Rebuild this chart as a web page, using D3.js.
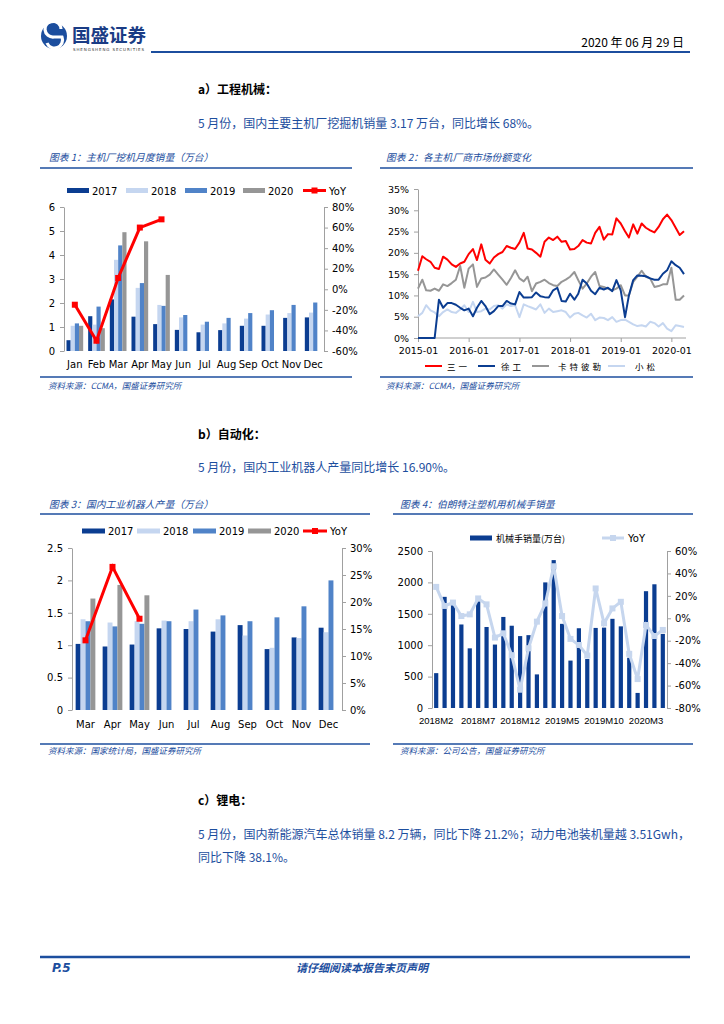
<!DOCTYPE html>
<html><head><meta charset="utf-8">
<script src="https://cdn.jsdelivr.net/npm/d3@7"></script>
<style>
body{margin:0;background:#fff;}
svg{display:block;}
</style></head><body>
<svg id="page" width="724" height="1024"></svg>
<script>
// ---------- DATA ----------
// Chart 1: excavator monthly sales (10k units)
const months1 = ["Jan","Feb","Mar","Apr","May","Jun","Jul","Aug","Sep","Oct","Nov","Dec"];
const years = ["2017","2018","2019","2020"];
const excav2017 = [0.45,1.45,2.15,1.43,1.12,0.88,0.78,0.87,1.05,1.05,1.38,1.40];
const excav2018 = [1.05,1.10,3.80,2.63,1.92,1.40,1.10,1.15,1.35,1.52,1.58,1.60];
const excav2019 = [1.15,1.85,4.40,2.83,1.88,1.50,1.22,1.38,1.58,1.70,1.92,2.02];
const excav2020 = [1.05,0.95,4.95,4.57,3.17];
const excavYoY = [-15,-50,11,60,68];
const ticks1L = [0,1,2,3,4,5,6];
const ticks1R = [-60,-40,-20,0,20,40,60,80];

// Chart 2: market share (%)
const shareStart = [2015,0], shareEnd = [2020,3];
const shareNames = ["三一","徐工","卡特彼勒","小松"];
const sany = [15.8,19.2,18.5,17.9,16.5,16.2,19.1,18.4,17.3,16.7,17.5,17.9,
  19.7,20.9,18.3,22.0,18.4,17.5,18.9,19.7,20.2,21.6,21.2,20.9,
  22.4,24.7,21.0,20.8,20.0,19.1,22.6,23.6,23.0,23.8,22.6,22.8,
  20.8,20.9,21.6,23.0,22.4,22.2,24.7,26.1,23.1,24.4,24.3,28.1,
  26.9,25.1,23.6,26.7,24.5,26.9,25.9,25.3,24.8,26.1,27.9,29.0,
  27.7,25.9,24.2,25.1];
const xcmg = [0,0,0,0,0,9.0,7.1,8.2,8.2,7.8,7.1,6.5,
  6.9,5.1,7.1,8.7,7.5,5.6,6.3,7.5,7.5,8.7,8.1,7.9,
  10.8,9.5,9.5,9.6,10.7,9.8,9.6,9.5,11.2,11.8,8.7,8.6,
  10.4,9.0,10.4,13.7,12.8,11.1,10.3,11.8,11.4,11.8,11.0,13.6,
  11.2,4.9,10.0,13.6,14.7,14.6,14.5,14.0,13.7,13.7,15.1,15.9,
  18.0,17.1,16.5,15.0];
const cat = [11.6,13.7,11.2,11.1,11.6,11.1,12.6,12.2,12.9,13.7,16.9,11.8,
  16.3,17.3,12.0,14.0,14.2,14.9,16.1,14.9,13.7,12.5,14.1,15.9,
  14.0,13.3,14.4,11.0,12.8,13.2,13.7,12.9,12.4,12.2,13.2,13.7,
  14.4,15.5,13.6,11.6,12.8,14.4,15.5,12.2,12.0,11.6,11.2,11.6,
  12.4,10.0,10.0,13.2,14.4,15.8,14.4,14.0,12.0,12.2,12.6,12.6,
  16.5,9.0,9.0,10.0];
const komatsu = [5.1,5.9,7.7,6.5,6.0,5.1,6.1,6.7,6.1,5.9,6.7,7.7,
  6.1,8.5,6.1,6.3,6.9,6.7,7.5,7.7,6.9,7.9,7.5,7.7,
  4.9,7.9,7.5,7.1,6.7,7.9,5.9,6.9,6.1,6.3,6.5,6.1,
  4.8,5.7,5.9,5.3,4.8,5.7,4.2,4.8,4.7,4.2,4.9,3.8,
  4.2,4.3,3.8,3.2,2.8,3.0,2.7,3.8,3.5,2.7,3.5,2.2,
  1.6,3.0,2.8,2.6];
const ticks2Y = [0,5,10,15,20,25,30,35];
const ticks2X = ["2015-01","2016-01","2017-01","2018-01","2019-01","2020-01"];

// Chart 3: industrial robot output (10k units)
const months3 = ["Mar","Apr","May","Jun","Jul","Aug","Sep","Oct","Nov","Dec"];
const robot2017 = [1.02,0.98,1.01,1.26,1.25,1.21,1.31,0.94,1.12,1.27];
const robot2018 = [1.40,1.35,1.37,1.38,1.37,1.40,1.15,0.96,1.11,1.20];
const robot2019 = [1.37,1.29,1.33,1.37,1.55,1.46,1.37,1.43,1.60,2.00];
const robot2020 = [1.72,1.93,1.77];
const robotYoY = [12.9,26.5,16.9];
const ticks3L = [0,0.5,1,1.5,2,2.5];
const ticks3R = [0,5,10,15,20,25,30];

// Chart 4: robot arm sales
const months4 = ["2018M2","2018M3","2018M4","2018M5","2018M6","2018M7","2018M8","2018M9","2018M10","2018M11","2018M12",
  "2019M1","2019M2","2019M3","2019M4","2019M5","2019M6","2019M7","2019M8","2019M9","2019M10","2019M11","2019M12",
  "2020M1","2020M2","2020M3","2020M4","2020M5"];
const arms = [555,1770,1640,1330,950,1700,1290,1010,1450,1310,1145,1160,535,2000,2355,1340,755,1270,780,1275,1280,1420,1300,800,240,1860,1970,1180];
const armsYoY = [28,11,14,2,3.5,17.7,12.4,-17.2,-13.4,-32.9,-63.7,-26.7,-3,13.2,46.4,2,-18.4,-23.8,-33.2,26.6,-4.5,8.8,14.7,-31.7,-54.2,-6,-15.8,-10.4];
const labels4 = ["2018M2","2018M7","2018M12","2019M5","2019M10","2020M3"];
const ticks4L = [0,500,1000,1500,2000,2500];
const ticks4R = [-80,-60,-40,-20,0,20,40,60];

// ---------- STYLE ----------
const BLUE = "#1c4e9e";
const C2017 = "#0b3d91", C2018 = "#c5d6f0", C2019 = "#5083c8", C2020 = "#969696", RED = "#ff0000";
const CJK = "'Noto Sans CJK SC','Noto Sans',sans-serif";
const NUM = "'DejaVu Sans',Verdana,sans-serif";
const NARROW = "'Liberation Sans',Arial,sans-serif";

const svg = d3.select("#page");

function txt(x, y, s, o = {}) {
  const t = svg.append("text").attr("x", x).attr("y", y).text(s)
    .attr("font-family", o.ff || CJK).attr("font-size", o.fs || 12)
    .attr("fill", o.fill || "#000").attr("text-anchor", o.anchor || "start");
  if (o.bold) t.attr("font-weight", "bold");
  if (o.italic) t.attr("font-style", "italic");
  return t;
}
function hline(x1, x2, y, w, c) {
  svg.append("line").attr("x1", x1).attr("x2", x2).attr("y1", y).attr("y2", y)
    .attr("stroke", c || BLUE).attr("stroke-width", w || 1.5);
}
function styleAxis(g, fs) {
  g.attr("font-family", NUM).attr("font-size", fs || 9.5);
  g.select(".domain").attr("stroke", "#a0a0a0");
  g.selectAll(".tick line").attr("stroke", "#a0a0a0");
  g.selectAll(".tick text").attr("fill", "#000");
}

// ---------- HEADER ----------
const logo = svg.append("g");
logo.append("circle").attr("cx", 54).attr("cy", 36).attr("r", 13).attr("fill", BLUE);
logo.append("path").attr("d", "M61,29 A8,8 0 1 0 54,37 L62,37 A8,8 0 0 1 47,43")
  .attr("fill", "none").attr("stroke", "#fff").attr("stroke-width", 3.2);
txt(72, 42, "国盛证券", {fs: 18.5, bold: true, fill: "#1a3c85"});
txt(73, 51, "SHENGSHENG SECURITIES", {fs: 4, fill: "#333", ff: NUM}).attr("letter-spacing", 0.9);
hline(151, 690, 52, 2);
txt(684, 47, "2020 年 06 月 29 日", {fs: 12, anchor: "end"});

// ---------- SECTION A ----------
txt(198, 94, "a）工程机械：", {fs: 12, bold: true});
txt(198, 128, "5 月份，国内主要主机厂挖掘机销量 3.17 万台，同比增长 68%。", {fs: 12, fill: BLUE});

txt(49, 161, "图表 1：主机厂挖机月度销量（万台）", {fs: 9.8, italic: true, fill: BLUE});
hline(40, 352, 168, 1.5);
txt(386, 161, "图表 2：各主机厂商市场份额变化", {fs: 9.8, italic: true, fill: BLUE});
hline(380, 693, 168, 1.5);

// Chart 1
(function () {
  const L = 64, R = 324, T = 207, B = 351;
  const x0 = d3.scaleBand().domain(months1).range([L, R]).paddingInner(0.23).paddingOuter(0.115);
  const x1 = d3.scaleBand().domain(years).range([0, x0.bandwidth()]);
  const y = d3.scaleLinear().domain([0, 6]).range([B, T]);
  const yR = d3.scaleLinear().domain([-60, 80]).range([B, T]);
  const series = [[excav2017, C2017], [excav2018, C2018], [excav2019, C2019], [excav2020, C2020]];
  const g = svg.append("g");
  series.forEach(([vals, col], si) => {
    g.selectAll(null).data(vals).enter().append("rect")
      .attr("x", (d, i) => x0(months1[i]) + x1(years[si]))
      .attr("width", x1.bandwidth())
      .attr("y", d => y(d)).attr("height", d => y(0) - y(d)).attr("fill", col);
  });
  const ga = svg.append("g").attr("transform", `translate(${L},0)`)
    .call(d3.axisLeft(y).tickValues(ticks1L).tickFormat(d3.format("d")).tickSize(4).tickSizeOuter(0).tickPadding(5));
  styleAxis(ga, 10);
  const gr = svg.append("g").attr("transform", `translate(${R},0)`)
    .call(d3.axisRight(yR).tickValues(ticks1R).tickFormat(d => d + "%").tickSize(4).tickSizeOuter(0).tickPadding(4));
  styleAxis(gr, 10);
  g.selectAll(null).data(months1).enter().append("text")
    .attr("x", d => x0(d) + x0.bandwidth() / 2).attr("y", 368).attr("text-anchor", "middle")
    .attr("font-family", NUM).attr("font-size", 10).text(d => d);
  const cx = (d, i) => x0(months1[i]) + x0.bandwidth() / 2;
  g.append("path").datum(excavYoY)
    .attr("d", d3.line().x(cx).y(d => yR(d)))
    .attr("fill", "none").attr("stroke", RED).attr("stroke-width", 3);
  g.selectAll(null).data(excavYoY).enter().append("rect")
    .attr("x", (d, i) => cx(d, i) - 3).attr("y", d => yR(d) - 3).attr("width", 6).attr("height", 6).attr("fill", RED);
  // legend
  const lg = svg.append("g");
  const lx = [67, 126, 185, 243];
  years.forEach((yr, i) => {
    lg.append("rect").attr("x", lx[i]).attr("y", 188).attr("width", 22).attr("height", 5).attr("fill", series[i][1]);
    lg.append("text").attr("x", lx[i] + 25).attr("y", 194.5).attr("font-family", NUM).attr("font-size", 10).text(yr);
  });
  lg.append("line").attr("x1", 303).attr("x2", 326).attr("y1", 190.5).attr("y2", 190.5).attr("stroke", RED).attr("stroke-width", 3);
  lg.append("rect").attr("x", 311.5).attr("y", 187.5).attr("width", 6).attr("height", 6).attr("fill", RED);
  lg.append("text").attr("x", 329).attr("y", 194.5).attr("font-family", NUM).attr("font-size", 10).text("YoY");
})();

// Chart 2
(function () {
  const L = 418, R = 684, T = 189, B = 338;
  const dates = d3.timeMonth.range(new Date(shareStart[0], shareStart[1], 1), new Date(shareEnd[0], shareEnd[1] + 1, 1));
  const x = d3.scaleTime().domain([dates[0], dates[dates.length - 1]]).range([L, R]);
  const y = d3.scaleLinear().domain([0, 35]).range([B, T]);
  const ga = svg.append("g").attr("transform", `translate(${L},0)`)
    .call(d3.axisLeft(y).tickValues(ticks2Y).tickFormat(d => d + "%").tickSize(4).tickSizeOuter(0).tickPadding(5));
  styleAxis(ga, 9.5);
  const parse = d3.timeParse("%Y-%m");
  const gb = svg.append("g").attr("transform", `translate(0,${B})`)
    .call(d3.axisBottom(x).tickValues(ticks2X.map(parse)).tickFormat(d3.timeFormat("%Y-%m")).tickSize(4).tickSizeOuter(0).tickPadding(5));
  styleAxis(gb, 9.5);
  gb.select(".domain").attr("d", `M${L},0H${R + 2}`);
  const series = [[sany, RED], [xcmg, C2017], [cat, "#969696"], [komatsu, C2018]];
  const line = d3.line().x((d, i) => x(dates[i])).y(d => y(d));
  [2, 3, 1, 0].forEach(si => {
    svg.append("path").datum(series[si][0]).attr("d", line)
      .attr("fill", "none").attr("stroke", series[si][1]).attr("stroke-width", 2).attr("stroke-linejoin", "round");
  });
  const lx = [[425, 447], [478, 501], [532, 558], [608, 635]];
  shareNames.forEach((n, i) => {
    svg.append("line").attr("x1", lx[i][0]).attr("x2", lx[i][0] + 17).attr("y1", 366).attr("y2", 366)
      .attr("stroke", series[i][1]).attr("stroke-width", 2);
    svg.append("text").attr("x", lx[i][1]).attr("y", 369.5).attr("font-family", CJK).attr("font-size", 8.5)
      .attr("letter-spacing", 3).text(n);
  });
})();

hline(40, 352, 377, 1.5);
hline(380, 693, 377, 1.5);
txt(48, 389, "资料来源：CCMA，国盛证券研究所", {fs: 8.5, italic: true, fill: BLUE});
txt(386, 389, "资料来源：CCMA，国盛证券研究所", {fs: 8.5, italic: true, fill: BLUE});

// ---------- SECTION B ----------
txt(198, 439, "b）自动化：", {fs: 12, bold: true});
txt(198, 472, "5 月份，国内工业机器人产量同比增长 16.90%。", {fs: 12, fill: BLUE});

txt(49, 508, "图表 3：国内工业机器人产量（万台）", {fs: 9.8, italic: true, fill: BLUE});
hline(40, 370, 514, 1.5);
txt(400, 508, "图表 4：伯朗特注塑机用机械手销量", {fs: 9.8, italic: true, fill: BLUE});
hline(393, 693, 514, 1.5);

// Chart 3
(function () {
  const L = 72, R = 342, T = 548, B = 710;
  const x0 = d3.scaleBand().domain(months3).range([L, R]).paddingInner(0.27).paddingOuter(0.135);
  const x1 = d3.scaleBand().domain(years).range([0, x0.bandwidth()]);
  const y = d3.scaleLinear().domain([0, 2.5]).range([B, T]);
  const yR = d3.scaleLinear().domain([0, 30]).range([B, T]);
  const series = [[robot2017, C2017], [robot2018, C2018], [robot2019, C2019], [robot2020, C2020]];
  const g = svg.append("g");
  series.forEach(([vals, col], si) => {
    g.selectAll(null).data(vals).enter().append("rect")
      .attr("x", (d, i) => x0(months3[i]) + x1(years[si]))
      .attr("width", x1.bandwidth())
      .attr("y", d => y(d)).attr("height", d => y(0) - y(d)).attr("fill", col);
  });
  const ga = svg.append("g").attr("transform", `translate(${L},0)`)
    .call(d3.axisLeft(y).tickValues(ticks3L).tickFormat(d3.format("")).tickSize(4).tickSizeOuter(0).tickPadding(5));
  styleAxis(ga, 10);
  const gr = svg.append("g").attr("transform", `translate(${R},0)`)
    .call(d3.axisRight(yR).tickValues(ticks3R).tickFormat(d => d + "%").tickSize(4).tickSizeOuter(0).tickPadding(4));
  styleAxis(gr, 10);
  g.selectAll(null).data(months3).enter().append("text")
    .attr("x", d => x0(d) + x0.bandwidth() / 2).attr("y", 728).attr("text-anchor", "middle")
    .attr("font-family", NUM).attr("font-size", 10).text(d => d);
  const cx = (d, i) => x0(months3[i]) + x0.bandwidth() / 2;
  g.append("path").datum(robotYoY)
    .attr("d", d3.line().x(cx).y(d => yR(d)))
    .attr("fill", "none").attr("stroke", RED).attr("stroke-width", 3);
  g.selectAll(null).data(robotYoY).enter().append("rect")
    .attr("x", (d, i) => cx(d, i) - 3).attr("y", d => yR(d) - 3).attr("width", 6).attr("height", 6).attr("fill", RED);
  const lg = svg.append("g");
  const lx = [82, 137, 193, 248];
  years.forEach((yr, i) => {
    lg.append("rect").attr("x", lx[i]).attr("y", 528.5).attr("width", 23).attr("height", 5).attr("fill", series[i][1]);
    lg.append("text").attr("x", lx[i] + 26).attr("y", 535).attr("font-family", NUM).attr("font-size", 10).text(yr);
  });
  lg.append("line").attr("x1", 303).attr("x2", 327).attr("y1", 531).attr("y2", 531).attr("stroke", RED).attr("stroke-width", 3);
  lg.append("rect").attr("x", 312).attr("y", 528).attr("width", 6).attr("height", 6).attr("fill", RED);
  lg.append("text").attr("x", 330).attr("y", 535).attr("font-family", NUM).attr("font-size", 10).text("YoY");
})();

// Chart 4
(function () {
  const L = 432, R = 667, T = 551, B = 708;
  const x = d3.scaleBand().domain(months4).range([L, R]).paddingInner(0.5).paddingOuter(0.25);
  const y = d3.scaleLinear().domain([0, 2500]).range([B, T]);
  const yR = d3.scaleLinear().domain([-80, 60]).range([B, T]);
  const g = svg.append("g");
  g.selectAll(null).data(arms).enter().append("rect")
    .attr("x", (d, i) => x(months4[i])).attr("width", x.bandwidth())
    .attr("y", d => y(d)).attr("height", d => y(0) - y(d)).attr("fill", C2017);
  const ga = svg.append("g").attr("transform", `translate(${L},0)`)
    .call(d3.axisLeft(y).tickValues(ticks4L).tickFormat(d3.format("d")).tickSize(4).tickSizeOuter(0).tickPadding(5));
  styleAxis(ga, 10);
  const gr = svg.append("g").attr("transform", `translate(${R},0)`)
    .call(d3.axisRight(yR).tickValues(ticks4R).tickFormat(d => d + "%").tickSize(4).tickSizeOuter(0).tickPadding(4));
  styleAxis(gr, 10);
  g.selectAll(null).data(labels4).enter().append("text")
    .attr("x", d => x(d) + x.bandwidth() / 2).attr("y", 724).attr("text-anchor", "middle")
    .attr("font-family", NARROW).attr("font-size", 9.5).text(d => d);
  const cx = (d, i) => x(months4[i]) + x.bandwidth() / 2;
  const LB = "#c6d6ee";
  g.append("path").datum(armsYoY)
    .attr("d", d3.line().x(cx).y(d => yR(d)))
    .attr("fill", "none").attr("stroke", LB).attr("stroke-width", 3);
  g.selectAll(null).data(armsYoY).enter().append("rect")
    .attr("x", (d, i) => cx(d, i) - 3).attr("y", d => yR(d) - 3).attr("width", 6).attr("height", 6).attr("fill", LB);
  const lg = svg.append("g");
  lg.append("rect").attr("x", 470).attr("y", 535.5).attr("width", 22).attr("height", 5).attr("fill", C2017);
  lg.append("text").attr("x", 496).attr("y", 542).attr("font-family", CJK).attr("font-size", 9).text("机械手销量(万台)");
  lg.append("line").attr("x1", 602).attr("x2", 624).attr("y1", 538).attr("y2", 538).attr("stroke", LB).attr("stroke-width", 3);
  lg.append("rect").attr("x", 610).attr("y", 535).attr("width", 6).attr("height", 6).attr("fill", LB);
  lg.append("text").attr("x", 628).attr("y", 542).attr("font-family", NUM).attr("font-size", 10).text("YoY");
})();

hline(40, 370, 744, 1.5);
hline(393, 693, 744, 1.5);
txt(48, 754, "资料来源：国家统计局，国盛证券研究所", {fs: 8.5, italic: true, fill: BLUE});
txt(400, 754, "资料来源：公司公告，国盛证券研究所", {fs: 8.5, italic: true, fill: BLUE});

// ---------- SECTION C ----------
txt(198, 805, "c）锂电：", {fs: 12, bold: true});
txt(198, 839, "5 月份，国内新能源汽车总体销量 8.2 万辆，同比下降 21.2%；动力电池装机量越 3.51Gwh，", {fs: 12, fill: BLUE})
  .attr("textLength", 492).attr("lengthAdjust", "spacingAndGlyphs");
txt(198, 862, "同比下降 38.1%。", {fs: 12, fill: BLUE});

// ---------- FOOTER ----------
hline(40, 690, 957, 2.5);
txt(52, 972, "P.5", {fs: 12, bold: true, italic: true, fill: BLUE, ff: NUM});
txt(362, 972, "请仔细阅读本报告末页声明", {fs: 11, bold: true, italic: true, fill: BLUE, anchor: "middle"});
</script>
</body></html>
